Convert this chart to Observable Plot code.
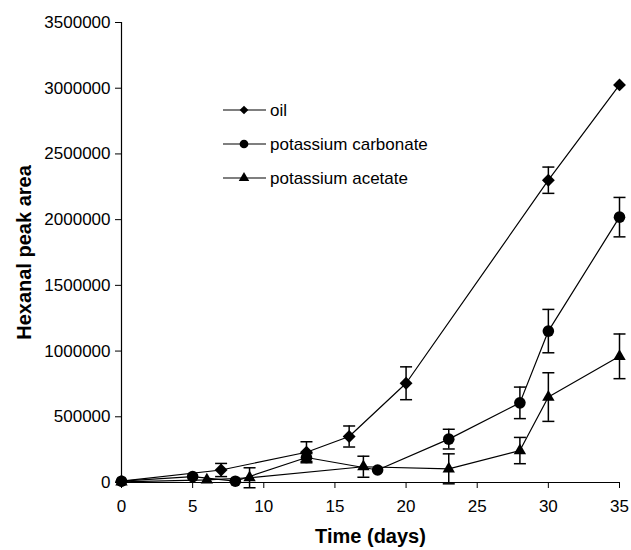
<!DOCTYPE html>
<html>
<head>
<meta charset="utf-8">
<script src="https://cdn.jsdelivr.net/npm/d3@7"></script>
<script src="https://cdn.jsdelivr.net/npm/@observablehq/plot@0.6"></script>
<style>
  html, body { margin: 0; padding: 0; background: white; }
  #wrap { position: relative; width: 631px; height: 550px; font-family: "Liberation Sans", Arial, sans-serif; }
  #legend { position: absolute; left: 0; top: 0; pointer-events: none; }
</style>
</head>
<body>
<div id="wrap"></div>
<script>
// ---- data ----
const seriesNames = ["oil", "potassium carbonate", "potassium acetate"];
const seriesSymbols = ["diamond2", "circle", "triangle"];

const oilDays = [0, 7, 13, 16, 20, 30, 35];
const oilValues = [10000, 95000, 230000, 350000, 755000, 2300000, 3025000];
const oilErrors = [0, 50000, 80000, 80000, 125000, 100000, 0];

const carbDays = [0, 5, 8, 13, 18, 23, 28, 30, 35];
const carbValues = [10000, 45000, 10000, 190000, 95000, 330000, 606000, 1152000, 2019000];
const carbErrors = [0, 0, 0, 30000, 0, 75000, 120000, 165000, 150000];

const acetDays = [0, 6, 9, 17, 23, 28, 30, 35];
const acetValues = [5000, 20000, 36000, 120000, 104000, 243000, 650000, 960000];
const acetErrors = [0, 0, 76000, 80000, 114000, 100000, 185000, 170000];

const xTicks = [0, 5, 10, 15, 20, 25, 30, 35];
const yTicks = [0, 500000, 1000000, 1500000, 2000000, 2500000, 3000000, 3500000];

const xTitle = "Time (days)";
const yTitle = "Hexanal peak area";

// ---- table ----
function build(name, days, vals, errs) {
  return days.map((t, i) => ({ s: name, t, v: vals[i], e: errs[i] }));
}
const rows = [
  ...build(seriesNames[0], oilDays, oilValues, oilErrors),
  ...build(seriesNames[1], carbDays, carbValues, carbErrors),
  ...build(seriesNames[2], acetDays, acetValues, acetErrors)
];
const errRows = rows.filter(d => d.e > 0);
const caps = errRows.flatMap(d => [{ t: d.t, y: d.v - d.e }, { t: d.t, y: d.v + d.e }]);

const capSymbol = {
  draw(context, size) {
    const w = 6;
    context.moveTo(-w, 0);
    context.lineTo(w, 0);
  }
};
const markerR = { "diamond2": 5.8, "circle": 5.8, "triangle": 4.6 };

const chart = Plot.plot({
  width: 631,
  height: 550,
  marginLeft: 121,
  marginRight: 12,
  marginTop: 22,
  marginBottom: 68,
  x: { domain: [0, 35] },
  y: { domain: [0, 3500000] },
  style: { fontFamily: "'Liberation Sans', Arial, sans-serif", fontSize: "17px", color: "black", background: "white" },
  marks: [
    Plot.axisX({ ticks: xTicks, tickSize: 6, tickPadding: 11, tickFormat: d => String(d), label: null, fontSize: 17, stroke: "black" }),
    Plot.axisY({ ticks: yTicks, tickSize: 6, tickPadding: 5, tickFormat: d => String(d), label: null, fontSize: 17, stroke: "black" }),
    Plot.ruleX([0], { stroke: "black", strokeWidth: 1.2 }),
    Plot.ruleY([0], { stroke: "black", strokeWidth: 1.2 }),
    Plot.line(rows, { x: "t", y: "v", z: "s", stroke: "black", strokeWidth: 1.2 }),
    Plot.ruleX(errRows, { x: "t", y1: d => d.v - d.e, y2: d => d.v + d.e, stroke: "black", strokeWidth: 1.5 }),
    Plot.dot(caps, { x: "t", y: "y", symbol: capSymbol, r: 3, stroke: "black", strokeWidth: 1.5, fill: "none" }),
    ...seriesNames.map((name, i) =>
      Plot.dot(rows.filter(d => d.s === name), {
        x: "t", y: "v", symbol: seriesSymbols[i], r: markerR[seriesSymbols[i]], fill: "black", stroke: "none"
      })
    ),
    Plot.text([xTitle], { frameAnchor: "bottom", dy: 54, lineAnchor: "middle", textAnchor: "middle", fontWeight: "bold", fontSize: 20, fill: "black" }),
    Plot.text([yTitle], { frameAnchor: "left", dx: -97, rotate: -90, lineAnchor: "middle", textAnchor: "middle", fontWeight: "bold", fontSize: 20, fill: "black" })
  ]
});
document.getElementById("wrap").appendChild(chart);

// ---- legend overlay ----
const legend = d3.select("#wrap").append("svg")
  .attr("id", "legend").attr("width", 631).attr("height", 550);
const lx0 = 223, lx1 = 266, lxm = 244, ltx = 270;
const ly = [110, 144, 178];
seriesNames.forEach((name, i) => {
  const g = legend.append("g").attr("transform", `translate(0,${ly[i]})`);
  g.append("line").attr("x1", lx0).attr("x2", lx1).attr("y1", 0).attr("y2", 0)
    .attr("stroke", "black").attr("stroke-width", 1.2);
  const sym = { "diamond2": d3.symbolDiamond2, "circle": d3.symbolCircle, "triangle": d3.symbolTriangle }[seriesSymbols[i]];
  const size = { "diamond2": 48, "circle": 60, "triangle": 48 }[seriesSymbols[i]];
  g.append("path").attr("d", d3.symbol(sym, size)()).attr("transform", `translate(${lxm},0)`).attr("fill", "black");
  g.append("text").attr("x", ltx).attr("y", 0).attr("dy", "0.35em")
    .attr("font-family", "'Liberation Sans', Arial, sans-serif").attr("font-size", 17).attr("fill", "black")
    .text(name);
});
</script>
</body>
</html>
